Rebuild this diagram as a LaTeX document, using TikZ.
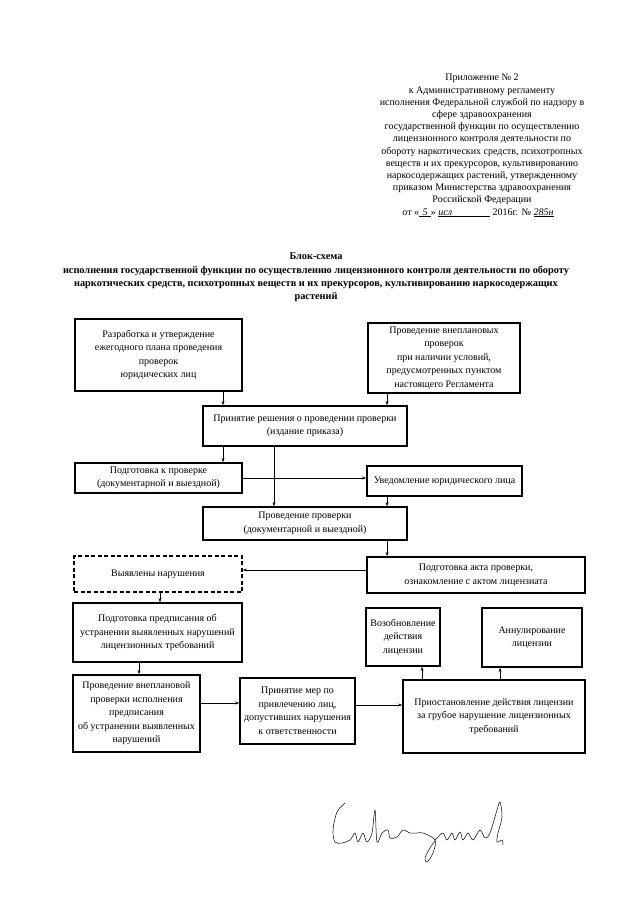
\documentclass[tikz,border=0pt]{standalone}
\usepackage{fontspec}
\setmainfont{Liberation Serif}
\usetikzlibrary{arrows.meta}
\begin{document}
\begin{tikzpicture}[x=1pt,y=-1pt,
  box/.style={draw, line width=1.3pt, align=center, inner sep=0pt,
    font=\fontsize{10}{13.5}\selectfont},
  dbox/.style={box, dash pattern=on 4pt off 2.5pt},
  arr/.style={-{Stealth[length=4.5pt,width=3pt]}, line width=0.7pt},
  hdr/.style={align=center, inner sep=0pt, font=\fontsize{10}{12.2}\selectfont},
  ttl/.style={align=center, inner sep=0pt, font=\bfseries\fontsize{10.3}{13.2}\selectfont}]
\useasboundingbox (0,0) rectangle (640,905);

% header
\node[hdr, anchor=north] (hd) at (482,74) {Приложение № 2\\
к Административному регламенту\\
исполнения Федеральной службой по надзору в\\
сфере здравоохранения\\
государственной функции по осуществлению\\
лицензионного контроля деятельности по\\
обороту наркотических средств, психотропных\\
веществ и их прекурсоров, культивированию\\
наркосодержащих растений, утвержденному\\
приказом Министерства здравоохранения\\
Российской Федерации};
\node[hdr, anchor=base] (date) at (478,215) {от «\underline{\textit{\,\,5\,\,}}» \underline{\textit{исл}\hspace{38pt}} 2016г. № \underline{\textit{285н}}};

% title
\node[ttl, anchor=north] (title) at (316,253) {Блок-схема\\
исполнения государственной функции по осуществлению лицензионного контроля деятельности по обороту\\
наркотических средств, психотропных веществ и их прекурсоров, культивированию наркосодержащих\\
растений};

% boxes
\node[box, minimum width=167pt, minimum height=72pt] (plan) at (158.5,355) {Разработка и утверждение\\ ежегодного плана проведения\\ проверок\\ юридических лиц};
\node[box, minimum width=152pt, minimum height=70pt] (vnepl) at (444,358) {Проведение внеплановых\\ проверок\\ при наличии условий,\\ предусмотренных пунктом\\ настоящего Регламента};
\node[box, minimum width=204pt, minimum height=40pt] (resh) at (305,426) {Принятие решения о проведении проверки\\ (издание приказа)};
\node[box, minimum width=167pt, minimum height=30pt] (podg) at (158.5,478) {Подготовка к проверке\\ (документарной и выездной)};
\node[box, minimum width=155pt, minimum height=30pt] (uved) at (444.5,481) {Уведомление юридического лица};
\node[box, minimum width=204pt, minimum height=33pt] (prov) at (305,523.5) {Проведение проверки\\ (документарной и выездной)};
\node[box, minimum width=218pt, minimum height=36pt] (akt) at (476,575) {Подготовка акта проверки,\\ ознакомление с актом лицензиата};
\node[dbox, minimum width=168pt, minimum height=36pt] (vyyav) at (158,574) {Выявлены нарушения};
\node[box, minimum width=169pt, minimum height=59pt] (predp) at (157.5,632.5) {Подготовка предписания об\\ устранении выявленных нарушений\\ лицензионных требований};
\node[box, minimum width=127pt, minimum height=77pt] (vnepl2) at (136.5,713.5) {Проведение внеплановой\\ проверки исполнения\\ предписания\\ об устранении выявленных\\ нарушений};
\node[box, minimum width=115pt, minimum height=66pt] (mery) at (297.5,711) {Принятие мер по\\ привлечению лиц,\\ допустивших нарушения\\ к ответственности};
\node[box, minimum width=182pt, minimum height=73pt] (priost) at (494,716.5) {Приостановление действия лицензии\\ за грубое нарушение лицензионных\\ требований};
\node[box, minimum width=74pt, minimum height=58pt] (vozob) at (403,637) {Возобновление\\ действия\\ лицензии};
\node[box, minimum width=100pt, minimum height=59pt] (annul) at (532,637.5) {Аннулирование\\ лицензии};

% guide coordinates
\coordinate (xa) at (223,0);
\coordinate (xb) at (387,0);
\coordinate (xc) at (274,0);
\coordinate (xd) at (160,0);
\coordinate (xe) at (139,0);
\coordinate (xf) at (422,0);
\coordinate (xg) at (500,0);
\coordinate (ya) at (0,478);
\coordinate (yb) at (0,570);
\coordinate (yc) at (0,703);
\coordinate (yd) at (0,705);

% connectors
\draw[arr] (plan.south -| xa) -- (resh.north -| xa);
\draw[arr] (vnepl.south -| xb) -- (resh.north -| xb);
\draw[arr] (resh.south -| xa) -- (podg.north -| xa);
\draw[arr] (resh.south -| xc) -- (prov.north -| xc);
\draw[arr] (podg.east |- ya) -- (uved.west |- ya);
\draw[arr] (uved.south -| xb) -- (prov.north -| xb);
\draw[arr] (prov.south -| xb) -- (akt.north -| xb);
\draw[arr] (akt.west |- yb) -- (vyyav.east |- yb);
\draw[arr] (vyyav.south -| xd) -- (predp.north -| xd);
\draw[arr] (predp.south -| xe) -- (vnepl2.north -| xe);
\draw[arr] (vnepl2.east |- yc) -- (mery.west |- yc);
\draw[arr] (mery.east |- yd) -- (priost.west |- yd);
\draw[arr] (priost.north -| xf) -- (vozob.south -| xf);
\draw[arr] (priost.north -| xg) -- (annul.south -| xg);

% signature
\draw[line width=0.5pt, line join=round, line cap=round] plot[smooth, tension=0.55] coordinates {
(345,803) (337,812) (333,830) (335,842) (342,843) (350,840)
(355,833) (358,842) (363,833) (367,842) (372,833)
(375,810) (377,842) (382,833) (388,830) (390,838) (397,837)
(403,830) (410,833) (417,833) (423,833) (435,840) (433,853) (427,862) (425,858) (430,848) (437,838)
(443,833) (447,840) (452,833) (455,840) (460,832) (463,840) (468,833) (473,840)
(480,830) (485,838) (490,833) (497,810) (500,802) (502,817) (498,833) (497,842) (502,840) (503,845)};
\end{tikzpicture}
\end{document}
